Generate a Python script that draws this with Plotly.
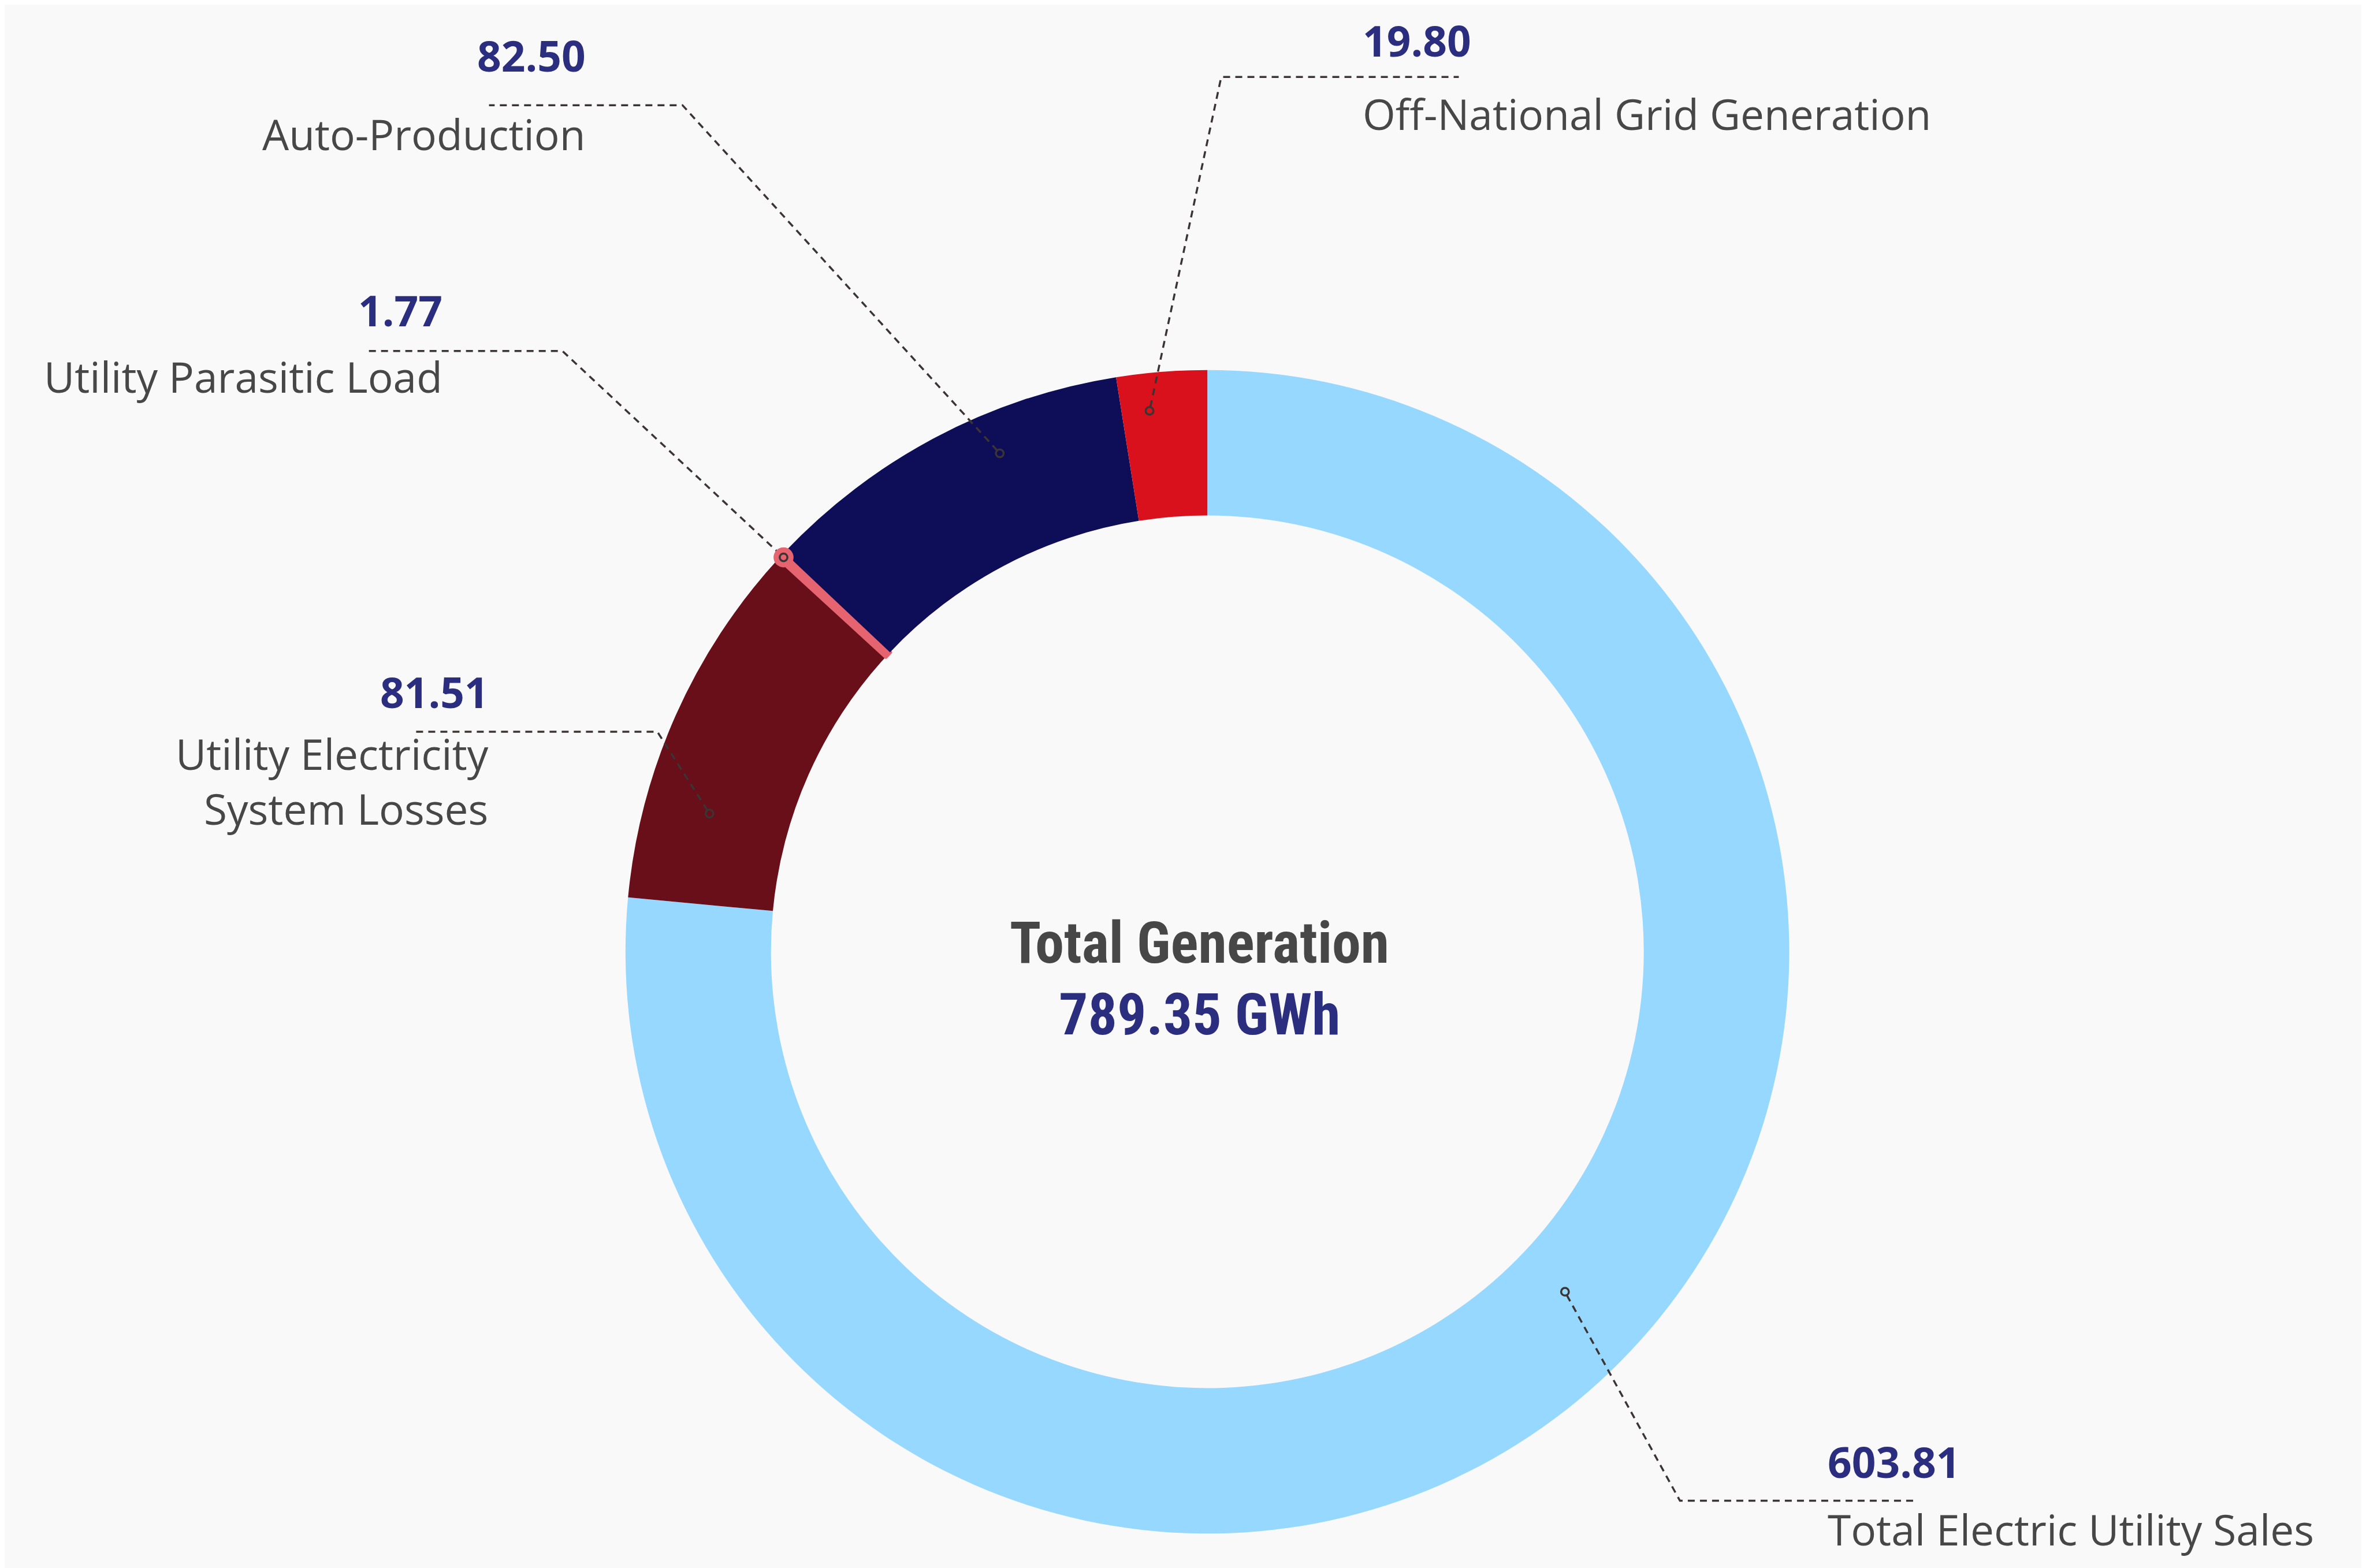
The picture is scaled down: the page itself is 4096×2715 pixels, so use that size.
import math
import plotly.graph_objects as go

# ---------------- data ----------------
categories = [
    "Off-National Grid Generation",
    "Auto-Production",
    "Utility Parasitic Load",
    "Utility Electricity System Losses",
    "Total Electric Utility Sales",
]
values = [19.80, 82.50, 1.77, 81.51, 603.81]
value_text = ["19.80", "82.50", "1.77", "81.51", "603.81"]
label_text = [
    "Off-National Grid Generation",
    "Auto-Production",
    "Utility Parasitic Load",
    "Utility Electricity<br>System Losses",
    "Total Electric Utility Sales",
]
center_title = "Total Generation"
center_value = "789.35 GWh"

# ---------------- styles ----------------
slice_colors = ["#D8111D", "#0E0D57", "#E5646F", "#690F19", "#96D8FF"]
slice_line_w = [0, 0, 7, 0, 0]
BG = "#F9F9F9"
VALUE_COLOR = "#2B2E7F"
LABEL_COLOR = "#474747"
LEADER_COLOR = "#3A3434"

# ---------------- layout geometry (reference pixel space) ----------------
REF_W, REF_H = 4611, 3056
W, H = 4096, 2715
CX, CY, R_OUT = 2344, 1846, 1134
HOLE = 0.75

# per slice label placement: side, text x, value y, label y, line y, bend x, end x,
# anchor position inside the slice (fraction of slice angle, fraction of outer radius)
label_layout = [
    dict(side="right", tx=2644, vy=69, ly=212, line_y=141, bend_x=2371, end_x=2834, af=0.676, ar=0.935),
    dict(side="left", tx=1135, vy=99, ly=252, line_y=196, bend_x=1321, end_x=944, af=0.361, ar=0.928),
    dict(side="left", tx=856, vy=595, ly=724, line_y=675, bend_x=1087, end_x=709, af=0.5, ar=0.995),
    dict(side="left", tx=946, vy=1339, ly=1513, line_y=1417, bend_x=1272, end_x=799, af=0.727, ar=0.888),
    dict(side="right", tx=3551, vy=2839, ly=2971, line_y=2916, bend_x=3265, end_x=3729, af=0.515, ar=0.848),
]

FONT = "Open Sans, Noto Sans, sans-serif"
CENTER_FONT = "Roboto Condensed, Roboto, sans-serif"
FS = 73
FS_CENTER = 100

fig = go.Figure()

# invisible trace that defines the overlay axes in reference pixel space
fig.add_trace(go.Scatter(x=[0, REF_W], y=[0, REF_H], mode="markers",
                         marker=dict(opacity=0), hoverinfo="skip", showlegend=False))

# slices run counterclockwise from 12 o'clock in list order -> draw reversed list clockwise
fig.add_trace(go.Pie(
    labels=categories[::-1],
    values=values[::-1],
    hole=HOLE,
    sort=False,
    direction="clockwise",
    rotation=0,
    textinfo="none",
    marker=dict(colors=slice_colors[::-1],
                line=dict(color=slice_colors[::-1], width=slice_line_w[::-1])),
    domain=dict(x=[(CX - R_OUT) / REF_W, (CX + R_OUT) / REF_W],
                y=[1 - (CY + R_OUT) / REF_H, 1 - (CY - R_OUT) / REF_H]),
    showlegend=False,
))

total = sum(values)
shapes = []
annotations = []
cum = 0.0
DOT_R = 7.5
for i, v in enumerate(values):
    a0 = cum / total * 360
    a1 = (cum + v) / total * 360
    cum += v
    L = label_layout[i]
    ang = math.radians(a0 + (a1 - a0) * L["af"])
    r = R_OUT * L["ar"]
    px = CX - r * math.sin(ang)
    py = CY - r * math.cos(ang)

    # leader line (stops at the dot ring)
    bx, by = L["bend_x"], L["line_y"]
    dx, dy = bx - px, by - py
    d = math.hypot(dx, dy)
    sx, sy = px + dx / d * DOT_R, py + dy / d * DOT_R
    shapes.append(dict(
        type="path", xref="x", yref="y", layer="above",
        path=f"M {sx:.1f},{sy:.1f} L {bx},{by} L {L['end_x']},{by}",
        line=dict(color=LEADER_COLOR, width=3.5, dash="12px,9px"),
    ))
    if categories[i] == "Utility Parasitic Load":
        pr = 19.5
        shapes.append(dict(type="circle", xref="x", yref="y", layer="above",
                           x0=px - pr, x1=px + pr, y0=py - pr, y1=py + pr,
                           fillcolor=slice_colors[i], line=dict(width=0)))
    shapes.append(dict(type="circle", xref="x", yref="y", layer="above",
                       x0=px - DOT_R, x1=px + DOT_R, y0=py - DOT_R, y1=py + DOT_R,
                       fillcolor="rgba(0,0,0,0)", line=dict(color=LEADER_COLOR, width=3.5)))

    xa = "right" if L["side"] == "left" else "left"
    annotations.append(dict(
        x=L["tx"], y=L["vy"], xref="x", yref="y", showarrow=False,
        text=f"<b>{value_text[i]}</b>", xanchor=xa, yanchor="middle",
        font=dict(family=FONT, size=FS, color=VALUE_COLOR),
    ))
    annotations.append(dict(
        x=L["tx"], y=L["ly"], xref="x", yref="y", showarrow=False,
        text=label_text[i], xanchor=xa, yanchor="middle", align=xa,
        font=dict(family=FONT, size=FS, color=LABEL_COLOR),
    ))

annotations.append(dict(
    x=2329, y=1828, xref="x", yref="y", showarrow=False,
    text=f"<b>{center_title}</b>", xanchor="center", yanchor="middle",
    font=dict(family=CENTER_FONT, size=FS_CENTER, color=LABEL_COLOR),
))
annotations.append(dict(
    x=2329, y=1968, xref="x", yref="y", showarrow=False,
    text=f"<b>{center_value}</b>", xanchor="center", yanchor="middle",
    font=dict(family=CENTER_FONT, size=FS_CENTER, color=VALUE_COLOR),
))

fig.update_layout(
    width=W, height=H,
    margin=dict(l=0, r=0, t=0, b=0, pad=0),
    paper_bgcolor=BG, plot_bgcolor="rgba(0,0,0,0)",
    xaxis=dict(range=[0, REF_W], visible=False, fixedrange=True, showgrid=False, zeroline=False),
    yaxis=dict(range=[REF_H, 0], visible=False, fixedrange=True, showgrid=False, zeroline=False),
    shapes=shapes,
    annotations=annotations,
    showlegend=False,
)

fig.write_html("out.html")
